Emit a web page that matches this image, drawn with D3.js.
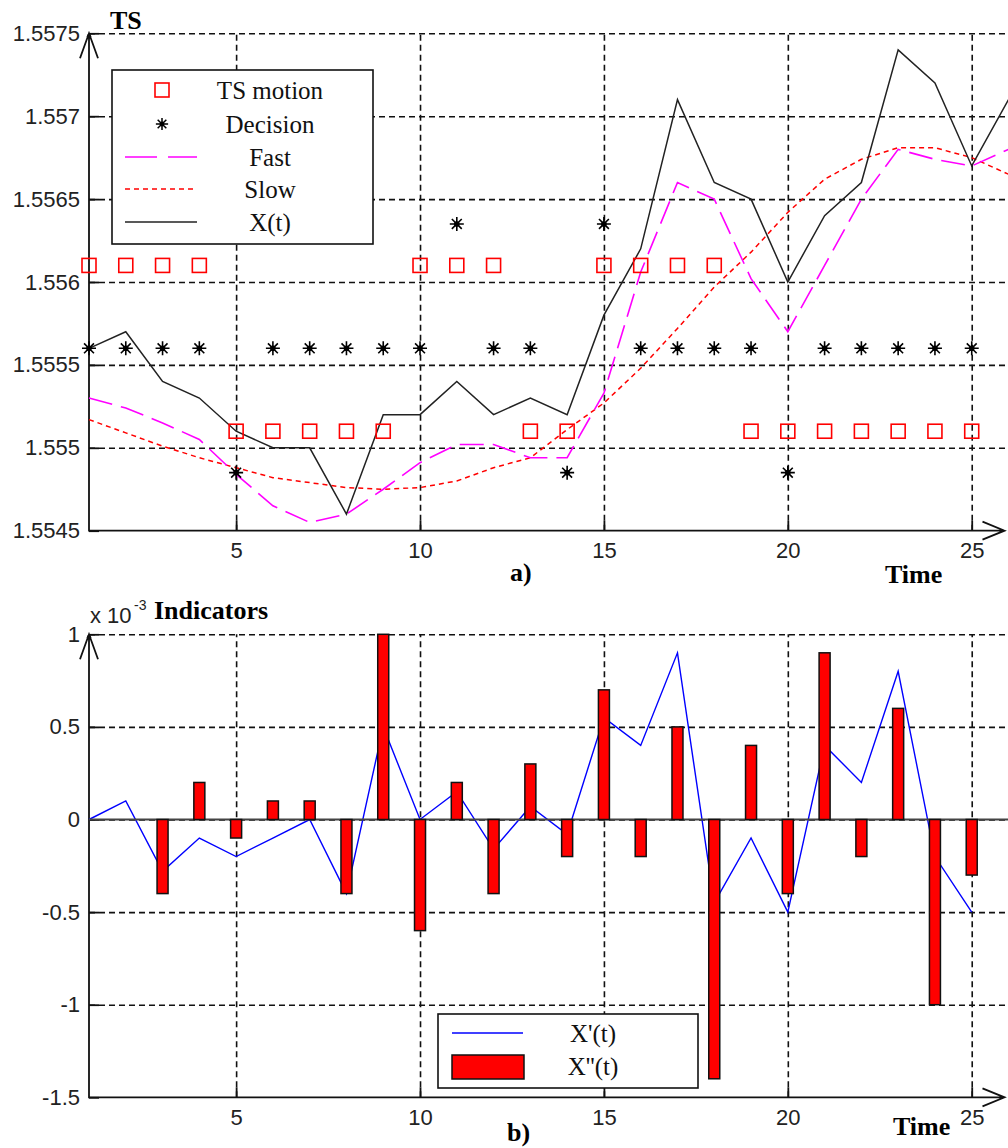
<!DOCTYPE html>
<html>
<head>
<meta charset="utf-8">
<script src="https://cdn.jsdelivr.net/npm/d3@7"></script>
<style>
  body { margin: 0; background: #fff; }
  svg { display: block; }
</style>
</head>
<body>
<div id="chart"></div>
<script>
// time steps of the lines (the last one sits on the cut right edge)
var steps = [1, 2, 3, 4, 5, 6, 7, 8, 9, 10, 11, 12, 13, 14, 15, 16, 17, 18, 19, 20, 21, 22, 23, 24, 25, 26];
// time steps of markers and bars
var markSteps = [1, 2, 3, 4, 5, 6, 7, 8, 9, 10, 11, 12, 13, 14, 15, 16, 17, 18, 19, 20, 21, 22, 23, 24, 25];

// panel a) series
var xt   = [1.5556, 1.5557, 1.5554, 1.5553, 1.5551, 1.5550, 1.5550, 1.5546, 1.5552, 1.5552, 1.5554, 1.5552, 1.5553,
            1.5552, 1.5558, 1.5562, 1.5571, 1.5566, 1.5565, 1.5560, 1.5564, 1.5566, 1.5574, 1.5572, 1.5567, 1.5571];
var fast = [1.5553, 1.55524, 1.55515, 1.55505, 1.55484, 1.55465, 1.55455, 1.5546, 1.55475, 1.55491, 1.55502, 1.55502, 1.55494,
            1.55494, 1.55533, 1.55606, 1.5566, 1.5565, 1.55602, 1.5557, 1.5561, 1.5565, 1.5568, 1.55674, 1.5567, 1.5568];
var slow = [1.55517, 1.55509, 1.55501, 1.55494, 1.55488, 1.55482, 1.55479, 1.55476, 1.55475, 1.55476, 1.5548, 1.55488, 1.55494,
            1.55511, 1.55527, 1.55548, 1.55572, 1.55597, 1.55618, 1.55642, 1.55662, 1.55674, 1.55681, 1.55681, 1.55675, 1.55665];
var tsMotion = [1.5561, 1.5561, 1.5561, 1.5561, 1.5551, 1.5551, 1.5551, 1.5551, 1.5551, 1.5561, 1.5561, 1.5561, 1.5551,
                1.5551, 1.5561, 1.5561, 1.5561, 1.5561, 1.5551, 1.5551, 1.5551, 1.5551, 1.5551, 1.5551, 1.5551];
var decision = [1.5556, 1.5556, 1.5556, 1.5556, 1.55485, 1.5556, 1.5556, 1.5556, 1.5556, 1.5556, 1.55635, 1.5556, 1.5556,
                1.55485, 1.55635, 1.5556, 1.5556, 1.5556, 1.5556, 1.55485, 1.5556, 1.5556, 1.5556, 1.5556, 1.5556];

// panel b) series (x 10^-3)
var dX  = [0, 0.1, -0.28, -0.1, -0.2, -0.1, 0, -0.4, 0.5, 0, 0.15, -0.16, 0.07, -0.08, 0.55, 0.4, 0.9, -0.45, -0.1, -0.5,
           0.4, 0.2, 0.8, -0.2, -0.5];
var ddX = [0, 0, -0.4, 0.2, -0.1, 0.1, 0.1, -0.4, 1.0, -0.6, 0.2, -0.4, 0.3, -0.2, 0.7, -0.2, 0.5, -1.4, 0.4, -0.4,
           0.9, -0.2, 0.6, -1.0, -0.3];

// ticks
var xTicks = [5, 10, 15, 20, 25];
var yTicksTop = [1.5545, 1.555, 1.5555, 1.556, 1.5565, 1.557, 1.5575];
var yTicksBot = [-1.5, -1, -0.5, 0, 0.5, 1];

var legendTop = ["TS motion", "Decision", "Fast", "Slow", "X(t)"];
var legendBot = ["X'(t)", "X''(t)"];

var W = 1008, H = 1148;

var svg = d3.select("#chart").append("svg")
  .attr("width", W)
  .attr("height", H)
  .style("font-family", "'Liberation Sans', Arial, sans-serif");

svg.append("rect").attr("width", W).attr("height", H).attr("fill", "#fff");

// scales
var x = d3.scaleLinear().domain([1, 26]).range([89, 1008.5]);
var yTop = d3.scaleLinear().domain([1.5545, 1.5575]).range([530.7, 33.3]);
var yBot = d3.scaleLinear().domain([-1.5, 1]).range([1097.3, 634.3]);

// 8 arm asterisk like matlab '*'
var asterisk = {
  draw: function (context, size) {
    var r = Math.sqrt(size) / 2;
    var d = r * Math.SQRT1_2;
    context.moveTo(-r, 0); context.lineTo(r, 0);
    context.moveTo(0, -r); context.lineTo(0, r);
    context.moveTo(-d, -d); context.lineTo(d, d);
    context.moveTo(-d, d); context.lineTo(d, -d);
  }
};

function fmt(d) { return String(+d.toFixed(4)); }

// grid, ticks, labels and arrow axes for one panel
function frame(y, yTicks) {
  var bottom = y.range()[0], top = y.range()[1];
  var g = svg.append("g");

  // dashed grid
  g.append("g")
    .attr("transform", "translate(0," + bottom + ")")
    .call(d3.axisBottom(x).tickValues(xTicks).tickSize(-(bottom - top)).tickFormat(""))
    .call(function (a) { a.select(".domain").remove(); });
  g.append("g")
    .attr("transform", "translate(" + x.range()[0] + ",0)")
    .call(d3.axisLeft(y).tickValues(yTicks.filter(function (d) { return d !== yTicks[0]; }))
      .tickSize(-(x.range()[1] - x.range()[0])).tickFormat(""))
    .call(function (a) { a.select(".domain").remove(); });
  g.selectAll(".tick line")
    .attr("stroke", "#111")
    .attr("stroke-width", 1.6)
    .attr("stroke-dasharray", "6,4");

  // solid inward ticks with labels
  var xa = g.append("g")
    .attr("transform", "translate(0," + bottom + ")")
    .call(d3.axisBottom(x).tickValues(xTicks).tickSize(-10).tickPadding(12));
  var ya = g.append("g")
    .attr("transform", "translate(" + x.range()[0] + ",0)")
    .call(d3.axisLeft(y).tickValues(yTicks).tickSize(-10).tickPadding(9).tickFormat(fmt));
  [xa, ya].forEach(function (a) {
    a.select(".domain").remove();
    a.selectAll("line").attr("stroke", "#111").attr("stroke-width", 1.8);
    a.selectAll("text").attr("fill", "#222").style("font-size", "22px")
      .style("font-family", "'Liberation Sans', Arial, sans-serif");
  });

  // axis lines with open arrows
  var x0 = x.range()[0], xEnd = x.range()[1] - 4;
  var axisPath = d3.path();
  axisPath.moveTo(x0, top);
  axisPath.lineTo(x0, bottom);
  axisPath.lineTo(xEnd, bottom);
  axisPath.moveTo(x0 - 9, top + 25);
  axisPath.lineTo(x0, top);
  axisPath.lineTo(x0 + 9, top + 25);
  axisPath.moveTo(xEnd - 22, bottom - 9);
  axisPath.lineTo(xEnd, bottom);
  axisPath.lineTo(xEnd - 22, bottom + 9);
  g.append("path")
    .attr("d", axisPath.toString())
    .attr("fill", "none")
    .attr("stroke", "#111")
    .attr("stroke-width", 1.8);
  g.append("circle").attr("cx", x0).attr("cy", top + 3).attr("r", 2.2).attr("fill", "#111");
  return g;
}

function boldLabel(txt, px, py) {
  svg.append("text")
    .attr("x", px).attr("y", py)
    .style("font-family", "'Liberation Serif', 'Times New Roman', serif")
    .style("font-weight", "bold")
    .style("font-size", "26px")
    .attr("fill", "#000")
    .text(txt);
}

// ---------- panel a) ----------
frame(yTop, yTicksTop);

var lineTop = d3.line()
  .x(function (d, i) { return x(steps[i]); })
  .y(function (d) { return yTop(d); });

svg.append("path").datum(slow)
  .attr("d", lineTop).attr("fill", "none")
  .attr("stroke", "#ff0000").attr("stroke-width", 1.5).attr("stroke-dasharray", "5,4");
svg.append("path").datum(fast)
  .attr("d", lineTop).attr("fill", "none")
  .attr("stroke", "#ff00ff").attr("stroke-width", 1.6).attr("stroke-dasharray", "24,9");
svg.append("path").datum(xt)
  .attr("d", lineTop).attr("fill", "none")
  .attr("stroke", "#222").attr("stroke-width", 1.5);

// TS motion squares
svg.append("g").selectAll("rect")
  .data(tsMotion)
  .enter().append("rect")
    .attr("x", function (d, i) { return x(markSteps[i]) - 7; })
    .attr("y", function (d) { return yTop(d) - 7; })
    .attr("width", 14).attr("height", 14)
    .attr("fill", "none")
    .attr("stroke", "#ff0000")
    .attr("stroke-width", 1.6);

// decision stars
var stars = svg.append("g").selectAll("g")
  .data(decision)
  .enter().append("g")
    .attr("transform", function (d, i) { return "translate(" + x(markSteps[i]) + "," + yTop(d) + ")"; });
stars.append("path")
  .attr("d", d3.symbol().type(asterisk).size(196))
  .attr("stroke", "#000").attr("stroke-width", 1.6).attr("fill", "none");
stars.append("circle").attr("r", 2.8).attr("fill", "#000");

// legend a)
var lg = svg.append("g");
lg.append("rect")
  .attr("x", 112).attr("y", 70).attr("width", 261).attr("height", 174)
  .attr("fill", "#fff").attr("stroke", "#111").attr("stroke-width", 1.6);
var rowsTop = [90, 124, 157, 189, 222];
lg.selectAll("text")
  .data(legendTop)
  .enter().append("text")
    .attr("x", 270)
    .attr("y", function (d, i) { return rowsTop[i]; })
    .attr("dy", "0.35em")
    .attr("text-anchor", "middle")
    .style("font-family", "'Liberation Serif', 'Times New Roman', serif")
    .style("font-size", "25px")
    .attr("fill", "#111")
    .text(function (d) { return d; });
lg.append("rect").attr("x", 155).attr("y", rowsTop[0] - 7).attr("width", 14).attr("height", 14)
  .attr("fill", "none").attr("stroke", "#ff0000").attr("stroke-width", 1.6);
var lgStar = lg.append("g").attr("transform", "translate(162," + rowsTop[1] + ")");
lgStar.append("path").attr("d", d3.symbol().type(asterisk).size(150))
  .attr("stroke", "#000").attr("stroke-width", 1.5).attr("fill", "none");
lgStar.append("circle").attr("r", 2.4).attr("fill", "#000");
lg.append("line").attr("x1", 125).attr("x2", 197).attr("y1", rowsTop[2]).attr("y2", rowsTop[2])
  .attr("stroke", "#ff00ff").attr("stroke-width", 1.6).attr("stroke-dasharray", "32,11");
lg.append("line").attr("x1", 125).attr("x2", 197).attr("y1", rowsTop[3]).attr("y2", rowsTop[3])
  .attr("stroke", "#ff0000").attr("stroke-width", 1.5).attr("stroke-dasharray", "5,4");
lg.append("line").attr("x1", 125).attr("x2", 197).attr("y1", rowsTop[4]).attr("y2", rowsTop[4])
  .attr("stroke", "#222").attr("stroke-width", 1.5);

boldLabel("TS", 110, 29);
boldLabel("a)", 510, 581);
boldLabel("Time", 885, 583);

// ---------- panel b) ----------
frame(yBot, yTicksBot);

var lineBot = d3.line()
  .x(function (d, i) { return x(markSteps[i]); })
  .y(function (d) { return yBot(d); });

svg.append("path").datum(dX)
  .attr("d", lineBot).attr("fill", "none")
  .attr("stroke", "#0000ff").attr("stroke-width", 1.4);

// zero line
svg.append("line")
  .attr("x1", x.range()[0]).attr("x2", x.range()[1])
  .attr("y1", yBot(0)).attr("y2", yBot(0))
  .attr("stroke", "#444").attr("stroke-width", 1.8);

var barW = 11;
svg.append("g").selectAll("rect")
  .data(ddX.map(function (d, i) { return { t: markSteps[i], v: d }; }).filter(function (d) { return d.v !== 0; }))
  .enter().append("rect")
    .attr("x", function (d) { return x(d.t) - barW / 2; })
    .attr("y", function (d) { return yBot(Math.max(0, d.v)); })
    .attr("width", barW)
    .attr("height", function (d) { return Math.abs(yBot(d.v) - yBot(0)); })
    .attr("fill", "#ff0000")
    .attr("stroke", "#111")
    .attr("stroke-width", 1.5);

// legend b)
var lb = svg.append("g");
lb.append("rect")
  .attr("x", 438).attr("y", 1014).attr("width", 260).attr("height", 74)
  .attr("fill", "#fff").attr("stroke", "#111").attr("stroke-width", 1.6);
lb.append("line").attr("x1", 452).attr("x2", 523).attr("y1", 1033).attr("y2", 1033)
  .attr("stroke", "#0000ff").attr("stroke-width", 1.4);
lb.append("rect").attr("x", 452).attr("y", 1055).attr("width", 72).attr("height", 24)
  .attr("fill", "#ff0000").attr("stroke", "#111").attr("stroke-width", 1.5);
var rowsBot = [1033, 1066];
lb.selectAll("text")
  .data(legendBot)
  .enter().append("text")
    .attr("x", 593)
    .attr("y", function (d, i) { return rowsBot[i]; })
    .attr("dy", "0.35em")
    .attr("text-anchor", "middle")
    .style("font-family", "'Liberation Serif', 'Times New Roman', serif")
    .style("font-size", "25px")
    .attr("fill", "#111")
    .text(function (d) { return d; });

// exponent and titles
svg.append("text").attr("x", 90).attr("y", 623)
  .style("font-size", "22px").attr("fill", "#222").text("x 10");
svg.append("text").attr("x", 134).attr("y", 610)
  .style("font-size", "14px").attr("fill", "#222").text("-3");
boldLabel("Indicators", 154, 619);
boldLabel("b)", 507, 1141);
boldLabel("Time", 893, 1135);
</script>
</body>
</html>
